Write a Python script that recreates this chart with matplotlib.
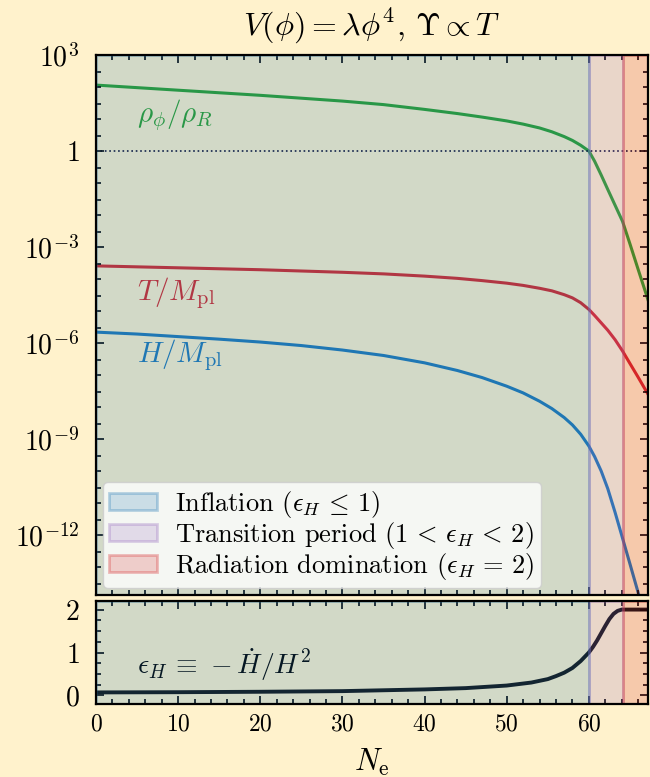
import numpy as np
import matplotlib.pyplot as plt
from matplotlib.ticker import FixedLocator, MultipleLocator, LogLocator, FuncFormatter, NullFormatter
from matplotlib.colors import to_rgba

plt.rcParams['font.family'] = 'serif'
plt.rcParams['font.serif'] = ['cmr10', 'DejaVu Serif']
plt.rcParams['mathtext.fontset'] = 'cm'
plt.rcParams['axes.formatter.use_mathtext'] = True

# number of e-folds and log10 of each quantity
N = [0, 5, 10, 15, 20, 25, 30, 35, 40, 44, 47, 50, 52, 54, 55.5, 57, 58, 59,
     60, 60.7, 61.5, 62.3, 63.2, 64.1, 65, 66, 67.2]
log_rho = [2.06, 1.98, 1.90, 1.82, 1.74, 1.65, 1.56, 1.45, 1.30, 1.17, 1.06,
           0.94, 0.84, 0.72, 0.60, 0.45, 0.33, 0.18, 0.0, -0.32, -0.75, -1.2,
           -1.7, -2.2, -2.9, -3.7, -4.65]
log_T = [-3.59, -3.62, -3.65, -3.68, -3.71, -3.75, -3.79, -3.84, -3.91, -3.98,
         -4.05, -4.13, -4.20, -4.29, -4.37, -4.49, -4.59, -4.74, -4.95, -5.14,
         -5.37, -5.6, -5.9, -6.25, -6.64, -7.07, -7.6]
log_H = [-5.66, -5.72, -5.8, -5.88, -5.97, -6.08, -6.22, -6.39, -6.62, -6.86,
         -7.08, -7.35, -7.56, -7.82, -8.05, -8.33, -8.56, -8.85, -9.22, -9.55,
         -10.0, -10.55, -11.3, -12.1, -12.9, -13.8, -14.85]

N_eps = [0, 10, 20, 30, 40, 45, 50, 53, 55, 56, 57, 58, 59, 60, 60.5, 61,
         61.5, 62, 62.5, 63, 63.5, 64, 65, 67.2]
eps = [0.07, 0.075, 0.085, 0.1, 0.14, 0.17, 0.23, 0.3, 0.38, 0.45, 0.53, 0.64,
       0.8, 1.0, 1.13, 1.28, 1.45, 1.62, 1.78, 1.9, 1.97, 2.0, 2.0, 2.0]

N_end_inf = 60
N_end_trans = 64.1
N_max = 67.2

bg = '#fff2cc'

fig = plt.figure(figsize=(6.5, 7.77), dpi=100, facecolor=bg)
ax1 = fig.add_axes([96/650, 182/777, 552/650, 540/777], facecolor=bg)
ax2 = fig.add_axes([96/650, 73/777, 552/650, 103/777], facecolor=bg)

ax1.plot(N, 10**np.array(log_rho), color='C2', lw=2.2, zorder=1)
ax1.plot(N, 10**np.array(log_T), color='C3', lw=2.2, zorder=1)
ax1.plot(N, 10**np.array(log_H), color='C0', lw=2.2, zorder=1)
ax1.axhline(1, color='#111133', ls=':', lw=1.2, zorder=1)

ax1.text(5, 13, r'$\rho_\phi/\rho_R$', color='C2', fontsize=21, va='center', zorder=1)
ax1.text(5, 3.7e-5, r'$T/M_\mathrm{pl}$', color='C3', fontsize=21, va='center', zorder=1)
ax1.text(5, 4.2e-7, r'$H/M_\mathrm{pl}$', color='C0', fontsize=21, va='center', zorder=1)

ax2.plot(N_eps, eps, color='#111111', lw=2.8, zorder=1)
ax2.text(5, 0.72, r'$\epsilon_H\,\equiv\,-\dot{H}/H^2$', fontsize=20, va='center', zorder=1)

spans = [(0, N_end_inf, 'C0', r'Inflation ($\epsilon_H\,\leq\,1$)'),
         (N_end_inf, N_end_trans, 'C4', r'Transition period ($1\,<\,\epsilon_H\,<\,2$)'),
         (N_end_trans, N_max, 'C3', r'Radiation domination ($\epsilon_H\,=\,2$)')]
for ax in (ax1, ax2):
    for a, b, c, lab in spans:
        ax.axvspan(a, b, facecolor=to_rgba(c, 0.2), edgecolor=to_rgba(c, 0.3),
                   lw=2, zorder=2, label=lab)

ax1.set_yscale('log')
ax1.set_ylim(10**-13.875, 1e3)
ax1.yaxis.set_major_locator(FixedLocator([10.0**k for k in range(3, -13, -3)]))
ax1.yaxis.set_major_formatter(FuncFormatter(
    lambda v, p: '$1$' if abs(np.log10(v)) < 0.01 else r'$10^{%d}$' % round(np.log10(v))))
ax1.yaxis.set_minor_locator(LogLocator(base=10, subs=(1.0, 3.0), numticks=100))
ax1.yaxis.set_minor_formatter(NullFormatter())

ax2.set_ylim(-0.2, 2.2)
ax2.yaxis.set_major_locator(MultipleLocator(1))
ax2.yaxis.set_minor_locator(MultipleLocator(0.25))

for ax in (ax1, ax2):
    ax.set_xlim(0, N_max)
    ax.xaxis.set_major_locator(MultipleLocator(10))
    ax.xaxis.set_minor_locator(MultipleLocator(2))
    ax.tick_params(which='both', direction='in', top=True, right=True, width=1.2)
    ax.tick_params(which='major', length=6)
    ax.tick_params(which='minor', length=3.5)
    ax.tick_params(axis='y', labelsize=20, pad=12)
    ax.tick_params(axis='x', labelsize=17, pad=7)
    for s in ax.spines.values():
        s.set_linewidth(1.6)
ax1.tick_params(labelbottom=False)

ax1.legend(loc='lower left', fontsize=19, framealpha=0.8, facecolor='white',
           edgecolor='#cccccc', handlelength=1.8, handleheight=0.6,
           handletextpad=0.7, borderaxespad=0.25, labelspacing=0.0,
           borderpad=0.25)

ax1.set_title(r'$V(\phi)=\lambda\phi^4,\,\Upsilon\propto T$', fontsize=23, pad=14)
ax2.set_xlabel(r'$N_\mathrm{e}$', fontsize=22, labelpad=8)

fig.savefig('out.png', dpi=100, facecolor=bg)
